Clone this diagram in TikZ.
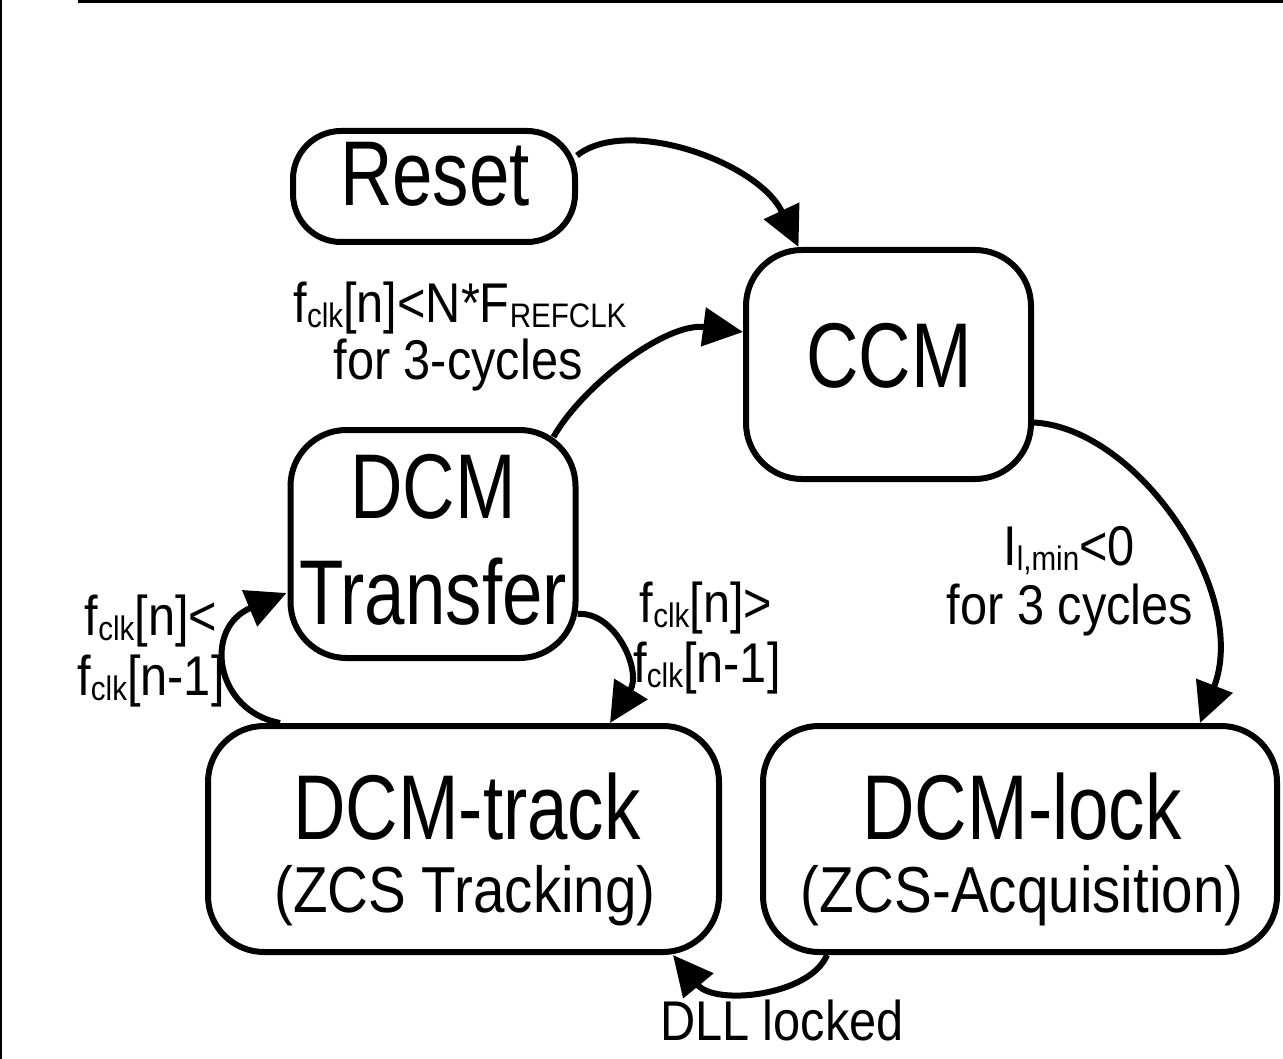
\documentclass[tikz,border=0pt]{standalone}
\usepackage{fontspec}
\usetikzlibrary{arrows.meta,calc}
\newfontfamily\ftitle[FakeStretch=0.79]{Liberation Sans}
\newfontfamily\flab[FakeStretch=0.87]{Liberation Sans}
% lowered small index text used in the transition conditions
\newcommand\lsub[1]{\raisebox{-5pt}{\fontsize{34}{38}\selectfont #1}}

\tikzset{
  statebox/.style={draw, line width=6pt, rounded corners=56pt, inner sep=0pt},
  title/.style={font=\ftitle\fontsize{92}{100}\selectfont, inner sep=0pt, anchor=base},
  subtitle/.style={font=\flab\fontsize{65}{70}\selectfont, inner sep=0pt, anchor=base},
  cond/.style={font=\flab\fontsize{56}{60}\selectfont, inner sep=0pt, anchor=base},
  trans/.style={line width=6pt, -{Triangle[length=40pt,width=38pt]}},
}

\begin{document}
\begin{tikzpicture}[x=1pt,y=-1pt]
\useasboundingbox (0,0) rectangle (1283,1059);

% frame edges
\draw[line width=3pt] (78,1.5) -- (1283,1.5);
\draw[line width=2pt] (1,0) -- (1,1059);

% states
\node[statebox, rounded corners=48pt, minimum width=282pt, minimum height=111pt] (reset) at (434,186.5) {};
\node[statebox, minimum width=285pt, minimum height=229pt] (ccm) at (888.5,364.5) {};
\node[statebox, minimum width=285pt, minimum height=228pt] (xfer) at (433,544) {};
\node[statebox, minimum width=511pt, minimum height=226pt] (track) at (463.5,839) {};
\node[statebox, minimum width=514pt, minimum height=226pt] (lock) at (1020,839) {};

% state names
\node[title] (tReset) at (435,206) {Reset};
\node[title] (tCCM) at (889,388) {CCM};
\node[title] (tDCM) at (433,518) {DCM};
\node[title] (tXfer) at (433,624) {Transfer};
\node[title] (tTrack) at (467,839) {DCM-track};
\node[subtitle] (tTrackSub) at (465,912) {(ZCS Tracking)};
\node[title] (tLock) at (1022,839) {DCM-lock};
\node[subtitle] (tLockSub) at (1022,912) {(ZCS-Acquisition)};

% transitions
\draw[trans] ($(reset.east)+(-1,-31)$) .. controls +(50,-40) and +(-40,-85) .. ($(ccm.north)+(-90,0)$);
\draw[trans] ($(xfer.north east)+(-25,10)$) .. controls +(28,-50) and +(-78,-10) .. ($(ccm.west)+(0,-32.5)$);
\draw[trans] ($(ccm.east)+(0,58)$) .. controls +(105,6) and +(50,-129) .. ($(lock.north)+(180,0)$);
\draw[trans] ($(xfer.east)+(-1,70)$) .. controls +(38,-3) and +(32,-52) .. ($(track.north)+(146.5,0)$);
\draw[trans] ($(track.north)+(-183.5,0)$) .. controls +(-65,-12) and +(-84,35) .. ($(xfer.west)+(-1,49)$);
\draw[trans] ($(lock.south)+(-193,0)$) .. controls +(-17,41) and +(42,51) .. ($(track.south)+(209.5,0)$);

% transition conditions
\node[cond] (c1a) at (460,323) {f\lsub{clk}[n]<N*F\lsub{REFCLK}};
\node[cond] (c1b) at (458,380) {for 3-cycles};
\node[cond] (c2a) at (1069,565) {I\lsub{l,min}<0};
\node[cond] (c2b) at (1070,624) {for 3 cycles};
\node[cond] (c3a) at (151,635) {f\lsub{clk}[n]<};
\node[cond] (c3b) at (151,695) {f\lsub{clk}[n-1]};
\node[cond] (c4a) at (706,622) {f\lsub{clk}[n]>};
\node[cond] (c4b) at (707,682) {f\lsub{clk}[n-1]};
\node[cond] (c5) at (782,1040) {DLL locked};
\end{tikzpicture}
\end{document}
